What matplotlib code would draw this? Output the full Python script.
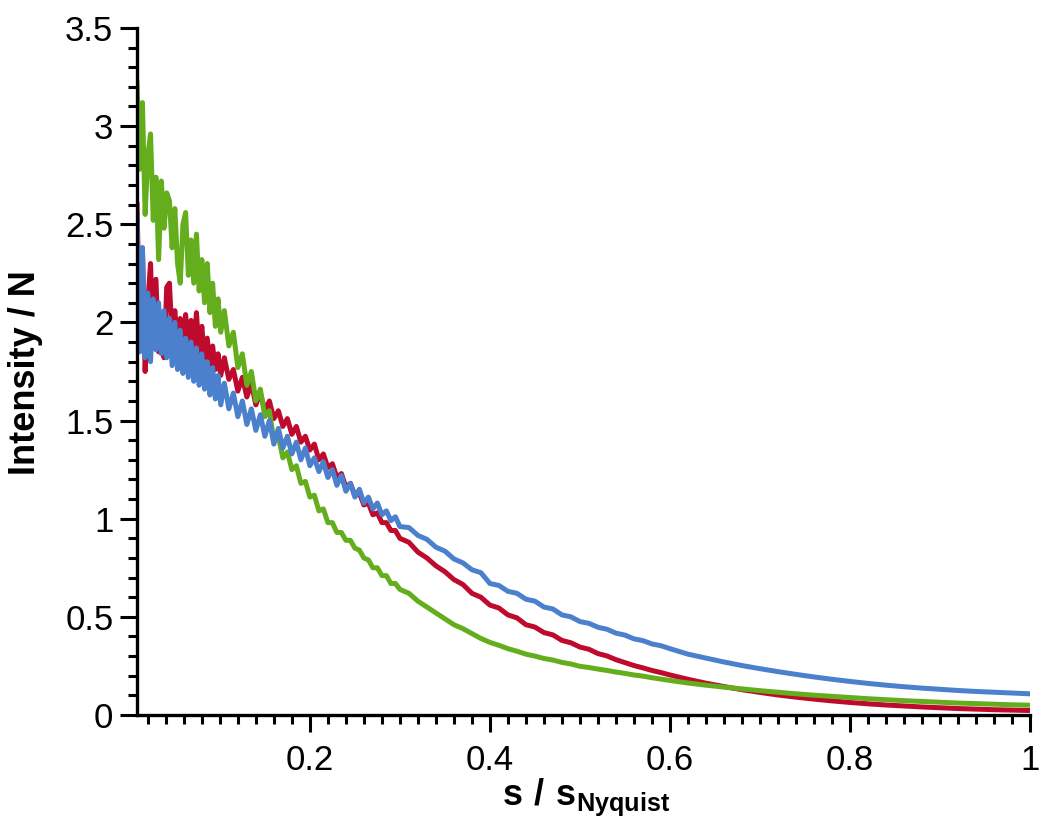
import matplotlib
matplotlib.use("Agg")
import matplotlib.pyplot as plt
from matplotlib.ticker import MultipleLocator

plt.rcParams['font.family'] = ['Liberation Sans', 'DejaVu Sans']
plt.rcParams['mathtext.fontset'] = 'custom'
plt.rcParams['mathtext.rm'] = 'Liberation Sans'
plt.rcParams['mathtext.bf'] = 'Liberation Sans:bold'

# ---------------- data ----------------
s = [0.008, 0.011, 0.014, 0.017, 0.020, 0.023, 0.026, 0.029, 0.032, 0.035,
     0.038, 0.041, 0.044, 0.047, 0.050, 0.053, 0.056, 0.059, 0.062, 0.065,
     0.068, 0.071, 0.074, 0.077, 0.080, 0.083, 0.086, 0.089, 0.092, 0.095,
     0.098, 0.101,
     0.105, 0.110, 0.115, 0.120, 0.125, 0.130, 0.135, 0.140, 0.145, 0.150,
     0.155, 0.160, 0.165, 0.170, 0.175, 0.180, 0.185, 0.190, 0.195, 0.200,
     0.205, 0.210, 0.215, 0.220, 0.225, 0.230, 0.235, 0.240, 0.245, 0.250,
     0.255, 0.260, 0.265, 0.270, 0.275, 0.280, 0.285, 0.290, 0.295, 0.300,
     0.31, 0.32, 0.33, 0.34, 0.35, 0.36, 0.37, 0.38, 0.39, 0.40,
     0.41, 0.42, 0.43, 0.44, 0.45, 0.46, 0.47, 0.48, 0.49, 0.50,
     0.51, 0.52, 0.53, 0.54, 0.55, 0.56, 0.57, 0.58, 0.59, 0.60,
     0.62, 0.64, 0.66, 0.68, 0.70, 0.72, 0.74, 0.76, 0.78, 0.80,
     0.82, 0.84, 0.86, 0.88, 0.90, 0.92, 0.94, 0.96, 0.98, 1.00]

red = [2.60, 1.95, 2.38, 1.75, 2.10, 2.30, 1.90, 2.22, 1.85, 2.05,
       1.82, 2.18, 2.20, 1.92, 2.06, 1.88, 2.02, 1.90, 2.04, 1.86,
       2.01, 1.88, 2.05, 1.84, 1.98, 1.80, 1.92, 1.78, 1.88, 1.76,
       1.84, 1.73,
       1.82, 1.71, 1.76, 1.65, 1.72, 1.62, 1.69, 1.58, 1.64, 1.55,
       1.60, 1.51, 1.55, 1.47, 1.51, 1.43, 1.47, 1.39, 1.42, 1.35,
       1.38, 1.30, 1.33, 1.26, 1.28, 1.21, 1.23, 1.16, 1.18, 1.12,
       1.13, 1.07, 1.08, 1.02, 1.03, 0.98, 0.98, 0.94, 0.94, 0.90,
       0.88, 0.83, 0.80, 0.76, 0.73, 0.69, 0.665, 0.62, 0.60, 0.56,
       0.545, 0.51, 0.495, 0.46, 0.448, 0.42, 0.408, 0.38, 0.368, 0.346,
       0.335, 0.313, 0.301, 0.282, 0.267, 0.252, 0.240, 0.227, 0.216, 0.204,
       0.182, 0.162, 0.145, 0.129, 0.115, 0.102, 0.091, 0.081, 0.072, 0.064,
       0.057, 0.051, 0.046, 0.041, 0.037, 0.033, 0.030, 0.027, 0.025, 0.023]

green = [3.22, 2.78, 3.12, 2.55, 2.85, 2.96, 2.52, 2.74, 2.32, 2.72,
         2.48, 2.66, 2.62, 2.38, 2.58, 2.30, 2.20, 2.50, 2.56, 2.24,
         2.42, 2.20, 2.45, 2.16, 2.32, 2.10, 2.30, 2.05, 2.20, 1.98,
         2.12, 1.95,
         2.06, 1.88, 1.95, 1.77, 1.84, 1.68, 1.75, 1.60, 1.66, 1.52,
         1.55, 1.40, 1.42, 1.31, 1.34, 1.25, 1.27, 1.18, 1.19, 1.11,
         1.12, 1.04, 1.05, 0.98, 0.98, 0.93, 0.93, 0.89, 0.89, 0.85,
         0.84, 0.80, 0.79, 0.75, 0.75, 0.71, 0.71, 0.67, 0.67, 0.64,
         0.62, 0.58, 0.55, 0.52, 0.49, 0.46, 0.44, 0.415, 0.39, 0.37,
         0.355, 0.338, 0.325, 0.31, 0.30, 0.288, 0.28, 0.268, 0.26, 0.248,
         0.242, 0.234, 0.227, 0.219, 0.212, 0.204, 0.198, 0.19, 0.183, 0.176,
         0.163, 0.152, 0.142, 0.133, 0.124, 0.116, 0.108, 0.101, 0.095, 0.089,
         0.083, 0.078, 0.073, 0.069, 0.065, 0.061, 0.058, 0.055, 0.052, 0.050]

blue = [2.55, 1.85, 2.38, 1.82, 2.15, 1.80, 2.12, 1.86, 2.10, 1.84,
        2.06, 1.82, 2.02, 1.78, 2.00, 1.76, 1.96, 1.74, 1.92, 1.72,
        1.90, 1.70, 1.87, 1.68, 1.84, 1.66, 1.80, 1.63, 1.77, 1.61,
        1.73, 1.58,
        1.69, 1.56, 1.64, 1.52, 1.60, 1.48, 1.56, 1.45, 1.53, 1.42,
        1.50, 1.38, 1.46, 1.36, 1.42, 1.33, 1.39, 1.30, 1.36, 1.27,
        1.31, 1.24, 1.29, 1.21, 1.25, 1.17, 1.22, 1.14, 1.18, 1.11,
        1.15, 1.08, 1.11, 1.05, 1.08, 1.02, 1.04, 0.99, 1.01, 0.96,
        0.955, 0.915, 0.895, 0.855, 0.835, 0.795, 0.775, 0.74, 0.725, 0.67,
        0.66, 0.63, 0.62, 0.59, 0.58, 0.55, 0.54, 0.51, 0.50, 0.476,
        0.467, 0.447, 0.437, 0.417, 0.407, 0.388, 0.379, 0.362, 0.353, 0.338,
        0.310, 0.290, 0.270, 0.252, 0.236, 0.221, 0.207, 0.194, 0.182, 0.171,
        0.161, 0.152, 0.144, 0.137, 0.131, 0.125, 0.120, 0.116, 0.112, 0.108]

x_ticks = [0.2, 0.4, 0.6, 0.8, 1.0]
x_ticklabels = ['0.2', '0.4', '0.6', '0.8', '1']
y_ticks = [0, 0.5, 1, 1.5, 2, 2.5, 3, 3.5]
y_ticklabels = ['0', '0.5', '1', '1.5', '2', '2.5', '3', '3.5']

# ---------------- figure ----------------
fig = plt.figure(figsize=(10.5, 8.35), dpi=100)
ax = fig.add_axes([0.1305, 0.1437, 0.8505, 0.8228])

lw = 3.6
ax.plot(s, red, color='#BE0A2C', lw=lw, solid_joinstyle='round')
ax.plot(s, green, color='#64AE1E', lw=lw, solid_joinstyle='round')
ax.plot(s, blue, color='#4A80CC', lw=lw, solid_joinstyle='round')

ax.set_xlim(0.008, 1.0)
ax.set_ylim(0, 3.5)

for side in ['top', 'right']:
    ax.spines[side].set_visible(False)
for side in ['left', 'bottom']:
    ax.spines[side].set_linewidth(2.4)
    ax.spines[side].set_color('black')

ax.set_xticks(x_ticks)
ax.set_xticklabels(x_ticklabels)
ax.set_yticks(y_ticks)
ax.set_yticklabels(y_ticklabels)
ax.xaxis.set_minor_locator(MultipleLocator(0.02))
ax.yaxis.set_minor_locator(MultipleLocator(0.1))
ax.tick_params(which='major', direction='out', length=12, width=2.2,
               labelsize=25, pad=5)
ax.tick_params(which='minor', direction='out', length=6.5, width=2.2)
ax.tick_params(axis='x', which='major', pad=9)

ax.set_ylabel('Intensity / N', fontsize=26, fontweight='bold')
ax.yaxis.set_label_coords(-0.105, 0.499)

ax.text(0.503, -0.131, r'$\mathbf{s\ /\ s}_{\mathbf{Nyquist}}$',
        transform=ax.transAxes, ha='center', va='baseline', fontsize=26)

fig.savefig('out.png', dpi=100)
